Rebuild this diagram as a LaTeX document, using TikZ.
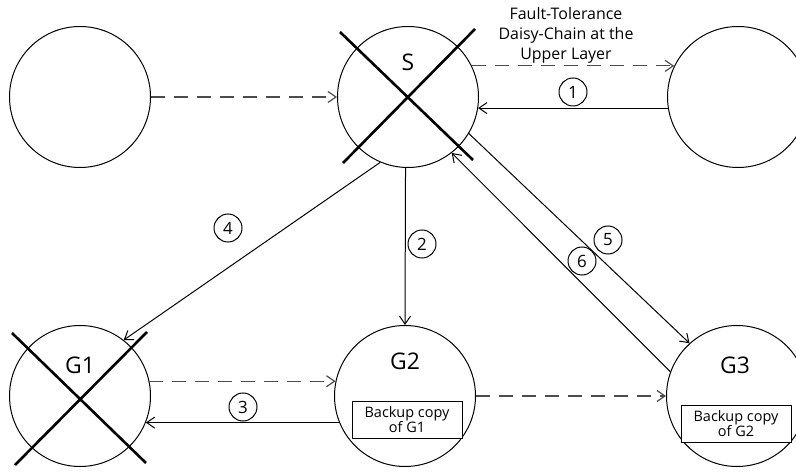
\documentclass[tikz,border=0pt]{standalone}
\usepackage{fontspec}
\setmainfont{Open Sans}
\usetikzlibrary{arrows.meta}

\begin{document}
\begin{tikzpicture}[x=1bp,y=-1bp,
    peer/.style={circle,draw,line width=1bp,minimum size=141bp,inner sep=0pt},
    msg/.style={line width=1bp,-{Straight Barb[length=8bp,width=11bp]}},
    chain/.style={msg,line width=1.2bp,dash pattern=on 14bp off 9bp,draw=black!70},
    stepno/.style={circle,draw,line width=1bp,minimum size=28bp,inner sep=0pt,font=\fontsize{17}{17}\selectfont},
    backup/.style={draw,fill=white,line width=1bp,minimum width=110bp,minimum height=37bp,align=center,inner sep=1bp,font=\fontsize{14.5}{15}\selectfont},
    peername/.style={font=\fontsize{23}{23}\selectfont},
    fail/.style={line width=2.6bp}]
    \useasboundingbox (0,0) rectangle (796,472);

    %%% PEERS %%%
    \node[peer] (P0) at (80,97) {};
    \node[peer] (S) at (408,97) {};
    \node[peer] (P1) at (738,97) {};
    \node[peer] (G1) at (80,396) {};
    \node[peer] (G2) at (405,396) {};
    \node[peer] (G3) at (737,396) {};

    %%% NAMES %%%
    \node[peername] (Sname) at (408,62) {S};
    \node[peername] (G1name) at (80,365) {G1};
    \node[peername] (G2name) at (405,361) {G2};
    \node[peername] (G3name) at (735,365) {G3};
    \node[align=center,font=\fontsize{16}{20}\selectfont] (ftdc) at (566,35) {Fault-Tolerance\\Daisy-Chain at the\\Upper Layer};

    %%% BACKUPS %%%
    \node[backup] (B2) at (407,420) {Backup copy\\of G1};
    \node[backup] (B3) at (736,424) {Backup copy\\of G2};

    %%% FAILED PEERS %%%
    \draw[fail] (340,32) -- (473,160);
    \draw[fail] (475,29) -- (343,163);
    \draw[fail] (12,333) -- (146,463);
    \draw[fail] (147,332) -- (15,465);

    %%% DAISY-CHAIN %%%
    \draw[chain] (P0.east) -- (S.west);
    \draw[chain] (S.26) -- (P1.154);
    \draw[chain] (G1.12) -- (G2.168);
    \draw[chain] (G2.east) -- (G3.west);

    %%% RECOVERY STEPS %%%
    \draw[msg] (P1.189) -- (S.351);
    \draw[msg] (S.268) -- (G2.north);
    \draw[msg] (G2.202) -- (G1.338);
    \draw[msg] (S.247) -- (G1.52);
    \draw[msg] (S.329) -- (G3.132);
    \draw[msg] (G3.160) -- (S.308);

    \node[stepno] (n1) at (573,92) {1};
    \node[stepno] (n2) at (422,244) {2};
    \node[stepno] (n3) at (243,407) {3};
    \node[stepno] (n4) at (228,228) {4};
    \node[stepno] (n5) at (608,240) {5};
    \node[stepno] (n6) at (582,261) {6};
\end{tikzpicture}
\end{document}
